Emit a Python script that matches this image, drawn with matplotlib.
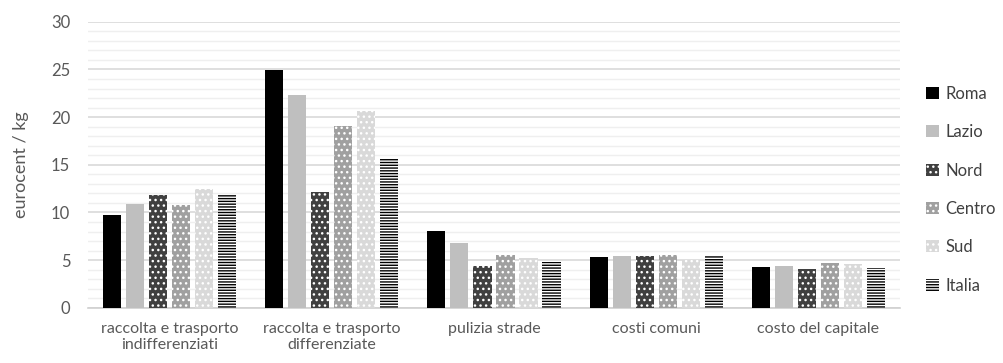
import numpy as np
import matplotlib
matplotlib.use("Agg")
import matplotlib.pyplot as plt
from matplotlib.ticker import MultipleLocator

# ===========================================
# DATA
# ===========================================
categories = ["raccolta e trasporto\nindifferenziati", "raccolta e trasporto\ndifferenziate",
              "pulizia strade", "costi comuni", "costo del capitale"]
series = ["Roma", "Lazio", "Nord", "Centro", "Sud", "Italia"]
roma = [9.7, 24.9, 8.1, 5.35, 4.25]
lazio = [10.9, 22.3, 6.75, 5.45, 4.35]
nord = [11.85, 12.1, 4.35, 5.4, 4.1]
centro = [10.8, 19.1, 5.5, 5.5, 4.7]
sud = [12.5, 20.6, 5.2, 5.05, 4.55]
italia = [11.85, 15.6, 4.8, 5.4, 4.2]
values = [roma, lazio, nord, centro, sud, italia]

# styles: facecolor, hatch, hatch colour
styles = [
    ("#000000", None, "#000000"),
    ("#bfbfbf", None, "#bfbfbf"),
    ("#404040", "...", "white"),
    ("#a0a0a0", "...", "white"),
    ("#d9d9d9", "...", "white"),
    ("white", "------", "black"),
]

TXT = "#595959"
plt.rcParams["font.family"] = ["Lato", "DejaVu Sans"]
plt.rcParams["hatch.linewidth"] = 1.0

fig = plt.figure(figsize=(10.04, 3.63), dpi=100)
ax = fig.add_axes([0.088, 0.152, 0.808, 0.788])

x = np.arange(len(categories))
n = len(series)
step = 0.142
width = 0.112
for i, (name, vals) in enumerate(zip(series, values)):
    fc, hatch, hc = styles[i]
    ax.bar(x + (i - (n - 1) / 2) * step, vals, width, color=fc, hatch=hatch,
           edgecolor=hc, linewidth=0, label=name, zorder=3)

ax.set_xlim(-0.5, len(categories) - 0.5)
ax.set_ylim(0, 30)
ax.yaxis.set_major_locator(MultipleLocator(5))
ax.yaxis.set_minor_locator(MultipleLocator(1))
ax.grid(axis="y", which="major", color="#d9d9d9", linewidth=1.2, zorder=0)
ax.grid(axis="y", which="minor", color="#efefef", linewidth=1.0, zorder=0)
ax.set_xticks(x)
ax.set_xticklabels(categories, fontsize=11.5, color=TXT, linespacing=1.2)
ax.tick_params(axis="both", which="both", length=0, colors=TXT)
ax.tick_params(axis="y", labelsize=12, pad=13)
ax.tick_params(axis="x", pad=10)
for s in ["top", "right", "left"]:
    ax.spines[s].set_visible(False)
ax.spines["bottom"].set_color("#d0d0d0")
ax.spines["bottom"].set_linewidth(1.2)
ax.set_ylabel("eurocent / kg", fontsize=13, color=TXT, labelpad=16)

leg = ax.legend(loc="center left", bbox_to_anchor=(1.033, 0.413), frameon=False,
                fontsize=12, handlelength=0.75, handleheight=0.75, handletextpad=0.4,
                labelspacing=1.34, borderpad=0, borderaxespad=0)
for t in leg.get_texts():
    t.set_color("#404040")

fig.savefig("out.png", dpi=100)
